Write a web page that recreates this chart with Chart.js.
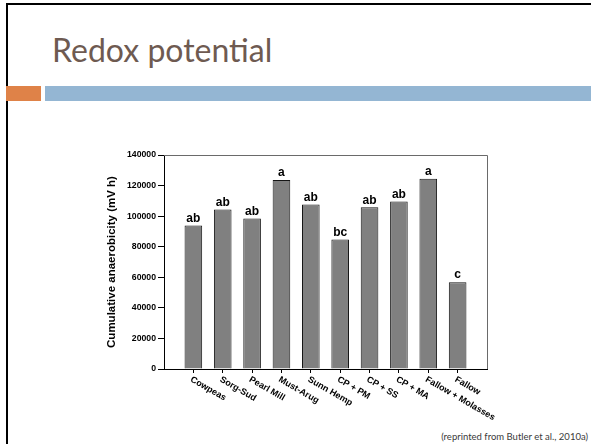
<!DOCTYPE html>
<html>
<head>
<meta charset="utf-8">
<script src="https://cdn.jsdelivr.net/npm/chart.js@4/dist/chart.umd.min.js"></script>
<style>
  html, body { margin: 0; padding: 0; background: #fff; }
  #slide { position: relative; width: 591px; height: 444px; overflow: hidden; background: #fff; }
  #frame { position: absolute; left: 6px; top: 3px; width: 600px; height: 460px;
           border-left: 2px solid #000; border-top: 2px solid #000; }
  #title { position: absolute; left: 52px; top: 34px; font-family: Lato, "Open Sans", sans-serif;
           font-size: 32px; color: #6e5a51; white-space: nowrap; line-height: 1; }
  #accent { position: absolute; left: 6px; top: 86px; width: 35px; height: 15px; background: #df8248; }
  #band { position: absolute; left: 45px; top: 86px; width: 560px; height: 15px; background: #94b6d3; }
  #source { position: absolute; right: 3px; top: 432px; font-family: Lato, "Open Sans", sans-serif;
            font-size: 9.5px; color: #3a3a3a; white-space: nowrap; line-height: 1; }
  #chart { position: absolute; left: 0; top: 0; }
</style>
</head>
<body>
<div id="slide">
  <div id="frame"></div>
  <div id="title">Redox potential</div>
  <div id="accent"></div>
  <div id="band"></div>
  <div id="source">(reprinted from Butler et al., 2010a)</div>
  <canvas id="chart" width="591" height="444"></canvas>
</div>
<script>
// Treatments and their cumulative anaerobicity (mV h)
const categories = ['Cowpeas', 'Sorg-Sud', 'Pearl Mill', 'Must-Arug', 'Sunn Hemp',
                    'CP + PM', 'CP + SS', 'CP + MA', 'Fallow + Molasses', 'Fallow'];
const anaerobicity = [93800, 104300, 98500, 123600, 107600, 84800, 105800, 109500, 124500, 56800];
// Mean separation letters shown above each bar
const groupLetters = ['ab', 'ab', 'ab', 'a', 'ab', 'bc', 'ab', 'ab', 'a', 'c'];
const yTicks = { min: 0, max: 140000, step: 20000 };
const yTitle = 'Cumulative anaerobicity (mV h)';

// One empty slot on each side of the bars
const slotLabels = ['', ...categories, ''];
const slotValues = [null, ...anaerobicity, null];
const slotLetters = ['', ...groupLetters, ''];

const plotFrame = {
  id: 'plotFrame',
  afterDraw(chart) {
    const { ctx, chartArea: a } = chart;
    ctx.save();
    ctx.strokeStyle = '#6a6a6a';
    ctx.lineWidth = 1;
    ctx.beginPath();
    ctx.moveTo(a.left, Math.round(a.top) + 0.5);
    ctx.lineTo(Math.round(a.right) + 0.5, Math.round(a.top) + 0.5);
    ctx.lineTo(Math.round(a.right) + 0.5, a.bottom);
    ctx.stroke();
    ctx.restore();
  }
};

const barLetters = {
  id: 'barLetters',
  afterDatasetsDraw(chart) {
    const { ctx } = chart;
    const meta = chart.getDatasetMeta(0);
    ctx.save();
    ctx.fillStyle = '#000';
    ctx.font = 'bold 12px "Liberation Sans", Arial, sans-serif';
    ctx.textAlign = 'center';
    ctx.textBaseline = 'bottom';
    meta.data.forEach((bar, i) => {
      if (slotValues[i] == null) return;
      ctx.fillText(slotLetters[i], bar.x, bar.y - 1);
    });
    ctx.restore();
  }
};

const slantedLabels = {
  id: 'slantedLabels',
  afterDraw(chart) {
    const { ctx, chartArea: a } = chart;
    const xs = chart.scales.x;
    ctx.save();
    ctx.fillStyle = '#000';
    ctx.font = 'bold 9px "Liberation Sans", Arial, sans-serif';
    ctx.textAlign = 'left';
    ctx.textBaseline = 'top';
    slotLabels.forEach((lab, i) => {
      if (!lab) return;
      const x = xs.getPixelForValue(i);
      ctx.save();
      ctx.translate(x, a.bottom + 6);
      ctx.rotate(30 * Math.PI / 180);
      ctx.fillText(lab, 0, 0);
      ctx.restore();
    });
    ctx.restore();
  }
};

new Chart(document.getElementById('chart'), {
  type: 'bar',
  data: {
    labels: slotLabels,
    datasets: [{
      data: slotValues,
      backgroundColor: '#808080',
      borderColor: '#151515',
      borderWidth: 1,
      categoryPercentage: 0.6,
      barPercentage: 1
    }]
  },
  options: {
    responsive: false,
    animation: false,
    devicePixelRatio: 1,
    layout: { padding: { left: 100, top: 155, right: 104, bottom: 61 } },
    plugins: { legend: { display: false }, tooltip: { enabled: false } },
    scales: {
      x: {
        type: 'category',
        offset: false,
        grid: {
          offset: false,
          drawOnChartArea: false,
          tickLength: 4,
          color: (c) => (c.index === 0 || c.index === slotLabels.length - 1) ? 'rgba(0,0,0,0)' : '#000'
        },
        border: { display: true, color: '#000', width: 1 },
        ticks: { display: false },
        afterFit: (s) => { s.height = 14; }
      },
      y: {
        min: yTicks.min,
        max: yTicks.max,
        grid: { drawOnChartArea: false, tickLength: 6, color: '#000' },
        border: { display: true, color: '#000', width: 1 },
        ticks: {
          stepSize: yTicks.step,
          padding: 2,
          color: '#000',
          callback: (v) => String(v),
          font: { family: '"Liberation Sans", Arial, sans-serif', size: 8.7, weight: 'bold' }
        },
        title: {
          display: true,
          text: yTitle,
          color: '#000',
          padding: { top: 5, bottom: 0 },
          font: { family: '"Liberation Sans", Arial, sans-serif', size: 11.5, weight: 'bold' }
        },
        afterFit: (s) => { s.width = 64; }
      }
    }
  },
  plugins: [plotFrame, barLetters, slantedLabels]
});
</script>
</body>
</html>
